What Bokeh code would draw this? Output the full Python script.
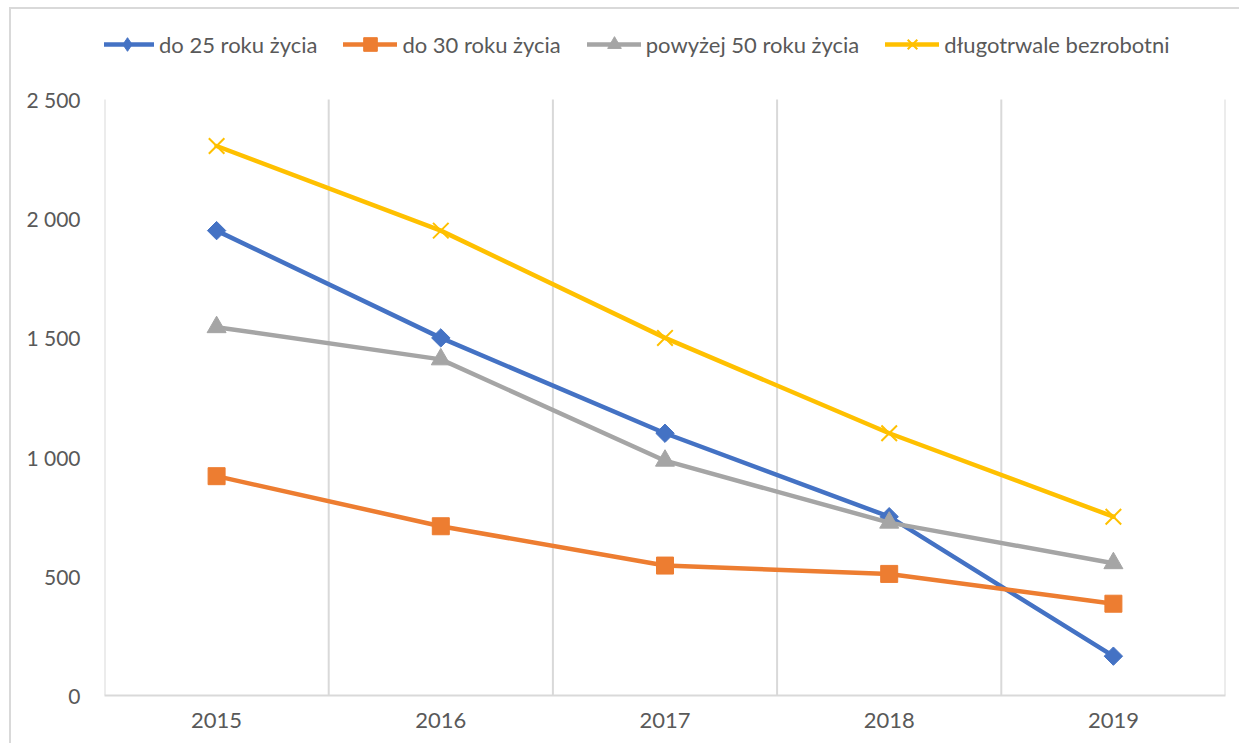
import math
from bokeh.plotting import figure
from bokeh.models import Legend, LegendItem, FixedTicker, Range1d
from bokeh.embed import file_html
from bokeh.resources import INLINE

years = [2015, 2016, 2017, 2018, 2019]
year_labels = ["2015", "2016", "2017", "2018", "2019"]
do25 = [1950, 1500, 1100, 750, 165]
do30 = [920, 710, 545, 510, 385]
pow50 = [1545, 1410, 985, 725, 555]
dlugo = [2305, 1950, 1500, 1100, 750]
names = ["do 25 roku życia", "do 30 roku życia", "powyżej 50 roku życia", "długotrwale bezrobotni"]
colors = ["#4472C4", "#ED7D31", "#A5A5A5", "#FFC000"]
y_ticks = [0, 500, 1000, 1500, 2000, 2500]
y_tick_labels = ["0", "500", "1 000", "1 500", "2 000", "2 500"]

FONT = "Lato"
TXT = "#595959"
GRID = "#D9D9D9"

# layout in pixels (canvas starts at page x=11, y=9 because of the chart border)
OX, OY = 11, 9
W, H = 1230, 736
BL = 104 - OX
BB = H - (695 - OY)
BR = W - (1225 - OX)
BT = 0
PLOT_TOP_PX = 99 - OY     # distance from figure top to the value-axis maximum
frame_h = H - BB - BT
y_top = y_ticks[-1] * frame_h / (frame_h - (PLOT_TOP_PX - BT))

p = figure(width=W, height=H,
           x_range=Range1d(years[0] - 0.5, years[-1] + 0.5),
           y_range=Range1d(y_ticks[0], y_top),
           output_backend="svg", toolbar_location=None,
           min_border_left=BL, min_border_right=BR,
           min_border_bottom=BB, min_border_top=BT)
p.outline_line_color = None
p.background_fill_color = "white"
p.border_fill_color = "white"
p.styles = {"border-left": "2px solid #D9D9D9", "border-top": "2px solid #D9D9D9",
            "margin-left": "9px", "margin-top": "7px"}

# axes
p.xaxis.ticker = FixedTicker(ticks=years)
p.xaxis.major_label_overrides = {y: l for y, l in zip(years, year_labels)}
p.xaxis.axis_line_color = GRID
p.xaxis.axis_line_width = 2
p.xaxis.major_tick_line_color = None
p.xaxis.minor_tick_line_color = None
p.xaxis.major_tick_out = 0
p.xaxis.major_tick_in = 0
p.xaxis.major_label_text_font = FONT
p.xaxis.major_label_text_font_size = "22px"
p.xaxis.major_label_text_color = TXT
p.xaxis.major_label_standoff = 17

p.yaxis.ticker = FixedTicker(ticks=y_ticks)
p.yaxis.major_label_overrides = {t: l for t, l in zip(y_ticks, y_tick_labels)}
p.yaxis.axis_line_color = None
p.yaxis.major_tick_line_color = None
p.yaxis.minor_tick_line_color = None
p.yaxis.major_tick_out = 0
p.yaxis.major_tick_in = 0
p.yaxis.major_label_text_font = FONT
p.yaxis.major_label_text_font_size = "21px"
p.yaxis.major_label_text_color = TXT
p.yaxis.major_label_standoff = 24

p.xgrid.grid_line_color = None
p.ygrid.grid_line_color = None

# vertical separators at category boundaries, from 0 to the axis maximum
bounds = [y - 0.5 for y in years] + [years[-1] + 0.5]
p.segment(x0=bounds, y0=[y_ticks[0]] * len(bounds), x1=bounds, y1=[y_ticks[-1]] * len(bounds),
          line_color=GRID, line_width=2)

series = [do25, do30, pow50, dlugo]
items = []
nan = float("nan")
for i, (vals, name, col) in enumerate(zip(series, names, colors)):
    ln = p.line(years, vals, line_color=col, line_width=4.5, line_cap="round", line_join="round")
    if i == 0:
        mk = p.scatter(years, vals, marker="square", angle=math.pi / 4, size=13,
                       fill_color=col, line_color=col)
        lg = p.scatter([nan], [nan], marker="diamond", size=16, fill_color=col, line_color=col)
    elif i == 1:
        mk = p.scatter(years, vals, marker="square", size=17, fill_color=col, line_color=col)
        lg = mk
    elif i == 2:
        mk = p.scatter(years, vals, marker="triangle", size=19, fill_color=col, line_color=col)
        lg = mk
    else:
        mk = p.scatter(years, vals, marker="x", size=22, line_color=col, line_width=2)
        lg = mk
    items.append(LegendItem(label=name, renderers=[ln, lg]))

legend = Legend(items=items, orientation="horizontal", location=(-4, frame_h - (61 - OY)),
                glyph_width=54, glyph_height=34, label_standoff=5, spacing=26,
                padding=0, margin=0,
                border_line_color=None, background_fill_alpha=0,
                label_text_font=FONT, label_text_font_size="22px",
                label_text_color=TXT)
p.add_layout(legend, "center")

open("out.html", "w").write(file_html(p, INLINE))
